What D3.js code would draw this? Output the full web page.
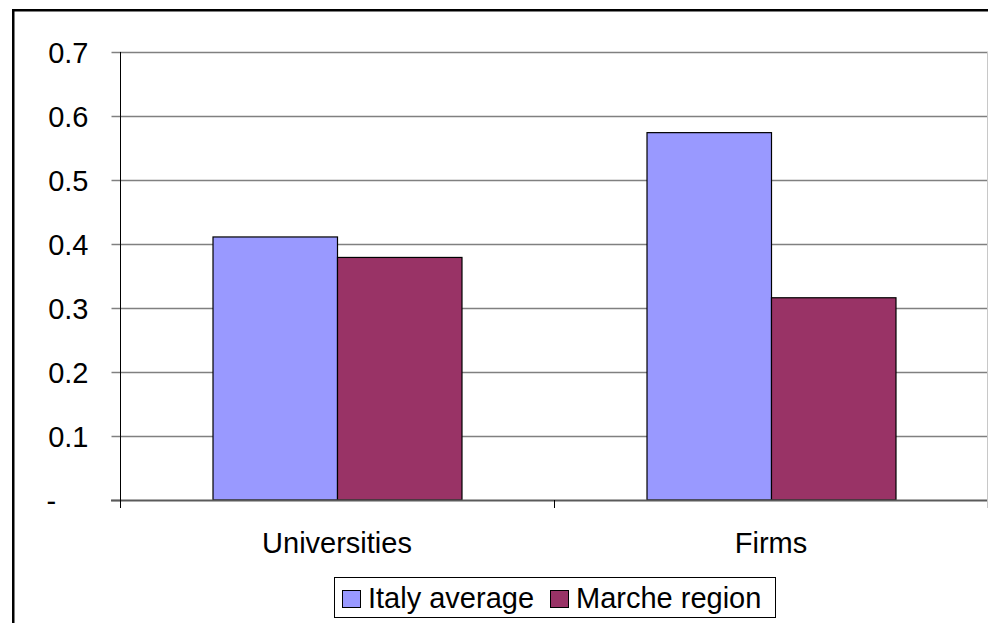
<!DOCTYPE html>
<html>
<head>
<meta charset="utf-8">
<script src="https://cdn.jsdelivr.net/npm/d3@7"></script>
<style>
  html, body { margin: 0; padding: 0; background: #fff; }
  svg { display: block; font-family: "Liberation Sans", Arial, sans-serif; }
</style>
</head>
<body>
<svg id="chart" width="988" height="623"></svg>
<script>
const categories = ["Universities", "Firms"];
const seriesNames = ["Italy average", "Marche region"];
const italyAverage = [0.411, 0.574];
const marcheRegion = [0.379, 0.316];
const seriesColors = ["#9999FF", "#993366"];
const yTicks = [0, 0.1, 0.2, 0.3, 0.4, 0.5, 0.6, 0.7];

const seriesValues = [italyAverage, marcheRegion];
const svg = d3.select("#chart");

const plotLeft = 120, plotRight = 988, plotTop = 52, plotBottom = 500;
const fontSize = 29;

// outer chart border
svg.append("rect")
  .attr("x", 13.25).attr("y", 10.25)
  .attr("width", 1100).attr("height", 800)
  .attr("fill", "#fff").attr("stroke", "#000").attr("stroke-width", 2.5);

const y = d3.scaleLinear().domain([0, 0.7]).range([plotBottom, plotTop]);
const x0 = d3.scaleBand().domain(categories).range([plotLeft, plotRight])
  .paddingInner(0.4263).paddingOuter(0.21315);
const x1 = d3.scaleBand().domain(seriesNames).range([0, x0.bandwidth()]);

// gridlines
svg.append("g").selectAll("line")
  .data(yTicks.filter(d => d > 0))
  .join("line")
  .attr("x1", plotLeft).attr("x2", plotRight)
  .attr("y1", d => Math.round(y(d)) + 0.5).attr("y2", d => Math.round(y(d)) + 0.5)
  .attr("stroke", "#808080").attr("stroke-width", 1.5);

// y axis
const yAxis = d3.axisLeft(y).tickValues(yTicks).tickSize(9).tickPadding(23)
  .tickFormat(d => d === 0 ? "-" : d3.format(".1f")(d));
const gy = svg.append("g").attr("transform", `translate(${plotLeft + 0.5},0)`).call(yAxis);
gy.select(".domain").attr("stroke", "#000").attr("d", `M0,${plotTop}V${plotBottom}`);
gy.selectAll(".tick line").attr("stroke", "#808080").attr("stroke-width", 1.5);
gy.selectAll(".tick text")
  .attr("font-size", fontSize).attr("font-family", "Liberation Sans, Arial, sans-serif")
  .attr("fill", "#000").attr("dy", "0.35em");
gy.selectAll(".tick").filter(d => d === 0).select("text")
  .attr("text-anchor", "start").attr("x", -74);

// bars
const groups = svg.append("g").selectAll("g")
  .data(categories)
  .join("g")
  .attr("transform", d => `translate(${x0(d)},0)`);
groups.selectAll("rect")
  .data((c, i) => seriesNames.map((s, j) => ({ s, j, v: seriesValues[j][i] })))
  .join("rect")
  .attr("x", d => x1(d.s) + 0.5)
  .attr("y", d => y(d.v))
  .attr("width", x1.bandwidth())
  .attr("height", d => plotBottom - y(d.v))
  .attr("fill", d => seriesColors[d.j])
  .attr("stroke", "#000").attr("stroke-width", 1.2);

// baseline
svg.append("line")
  .attr("x1", plotLeft - 9).attr("x2", plotRight)
  .attr("y1", plotBottom + 0.5).attr("y2", plotBottom + 0.5)
  .attr("stroke", "#5a5a5a").attr("stroke-width", 2);

// category boundary ticks
const bounds = d3.range(categories.length + 1).map(i => plotLeft + i * x0.step());
svg.append("g").selectAll("line")
  .data(bounds)
  .join("line")
  .attr("x1", d => Math.min(d, plotRight - 1) + 0.5).attr("x2", d => Math.min(d, plotRight - 1) + 0.5)
  .attr("y1", d => d === plotLeft ? plotTop : plotBottom).attr("y2", plotBottom + 8)
  .attr("stroke", (d, i) => i === categories.length ? "#c0c0c0" : "#000");
svg.append("line")
  .attr("x1", plotRight - 0.5).attr("x2", plotRight - 0.5)
  .attr("y1", plotTop).attr("y2", plotBottom + 8)
  .attr("stroke", "#c8c8c8");

// x axis labels
const xAxis = d3.axisBottom(x0).tickSize(0).tickPadding(0);
const gx = svg.append("g").attr("transform", `translate(0,${plotBottom})`).call(xAxis);
gx.select(".domain").remove();
gx.selectAll(".tick text")
  .attr("font-size", fontSize).attr("font-family", "Liberation Sans, Arial, sans-serif")
  .attr("fill", "#000").attr("y", 53).attr("dy", 0);

// legend
const legend = svg.append("g");
legend.append("rect")
  .attr("x", 334.5).attr("y", 577.5).attr("width", 441).attr("height", 40)
  .attr("fill", "#fff").attr("stroke", "#000").attr("stroke-width", 1);
const legendX = [342, 550];
const items = legend.selectAll("g.item")
  .data(seriesNames)
  .join("g")
  .attr("class", "item")
  .attr("transform", (d, i) => `translate(${legendX[i]},0)`);
items.append("rect")
  .attr("x", 0.5).attr("y", 590.5).attr("width", 18).attr("height", 17)
  .attr("fill", (d, i) => seriesColors[i]).attr("stroke", "#000").attr("stroke-width", 1);
items.append("text")
  .attr("x", 26).attr("y", 608)
  .attr("font-size", fontSize).attr("fill", "#000")
  .text(d => d);
</script>
</body>
</html>
